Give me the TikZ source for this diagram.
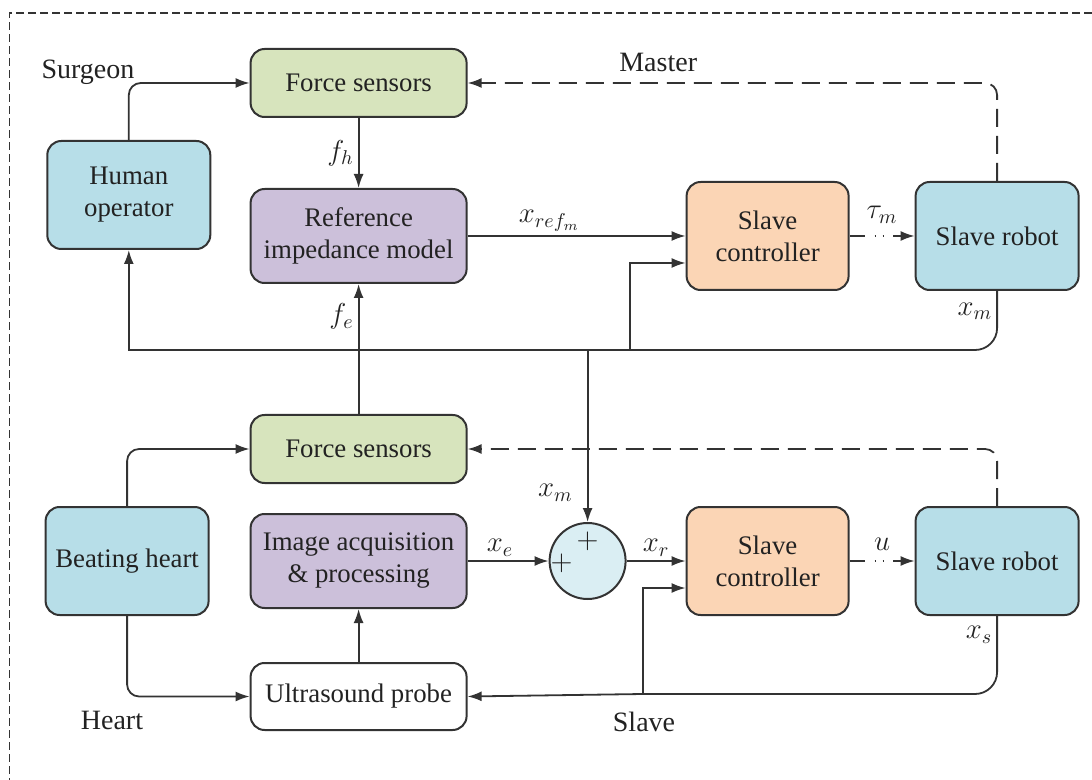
\documentclass[tikz,border=0pt]{standalone}
\usepackage{fontspec}
\setmainfont{Liberation Serif}
\usetikzlibrary{arrows.meta,positioning,calc}

\definecolor{linegray}{RGB}{51,51,51}
\definecolor{textdark}{RGB}{34,34,34}
\definecolor{sensgreen}{RGB}{215,228,189}
\definecolor{modpurple}{RGB}{204,192,218}
\definecolor{ctrlorange}{RGB}{251,213,181}
\definecolor{plantblue}{RGB}{183,222,232}
\definecolor{sumblue}{RGB}{218,238,243}

\begin{document}
\begin{tikzpicture}[
  x=0.5pt, y=-0.5pt,
  font=\fontsize{13.4}{16}\selectfont,
  text=textdark,
  >={Latex[length=7pt,width=5pt]},
  block/.style={draw=linegray, line width=1pt, rounded corners=7pt, align=center, inner sep=2pt},
  sensor/.style={block, fill=sensgreen, minimum width=108pt, minimum height=34pt},
  model/.style={block, fill=modpurple, minimum width=108pt, minimum height=47pt},
  ctrl/.style={block, fill=ctrlorange, minimum width=81pt, minimum height=54pt},
  plant/.style={block, fill=plantblue, minimum width=81.5pt, minimum height=54pt},
  probe/.style={block, fill=white, minimum width=108pt, minimum height=33.5pt},
  sumnode/.style={circle, draw=linegray, line width=1pt, fill=sumblue, minimum size=38pt, inner sep=0pt},
  line/.style={draw=linegray, line width=0.9pt},
  arrow/.style={line, ->},
  dasharrow/.style={arrow, dash pattern=on 9pt off 4.5pt},
  dotarrow/.style={arrow, dash pattern=on 7.5pt off 5pt on 0.7pt off 3.3pt on 0.7pt off 4.5pt on 40pt},
  note/.style={inner sep=2pt, font=\fontsize{14}{16}\selectfont},
  frame/.style={draw=linegray, line width=0.6pt, dash pattern=on 4pt off 2pt}
]
\useasboundingbox (0,0) rectangle (1092,780);

% ----- OUTER FRAME -----
\draw[frame] (1092,13) -| (9.4,780);

% ----- MASTER SIDE -----
\node[model] (ref) at (358.6,236) {Reference\\impedance model};
\node[sensor, above=35pt of ref] (fsm) {Force sensors};
\node[ctrl, right=109pt of ref] (scm) {Slave\\controller};
\node[plant, right=32.5pt of scm] (srm) {Slave robot};
\node[plant] (hop) at (128.8,195) {Human\\operator};

% ----- SLAVE SIDE -----
\node[model] (img) at (358.6,561) {Image acquisition\\\& processing};
\node[sensor, above=14.5pt of img] (fss) {Force sensors};
\node[probe, below=26.5pt of img] (usp) {Ultrasound probe};
\node[plant, left=20pt of img] (hrt) {Beating heart};
\node[sumnode, right=40.5pt of img] (sum) {};
\node[ctrl, right=29.5pt of sum] (scs) {Slave\\controller};
\node[plant, right=32.5pt of scs] (srs) {Slave robot};

% ----- SUM SIGNS -----
\node[inner sep=0pt] (plusup) at ($(sum.center)+(0,-20)$) {$+$};
\node[inner sep=0pt] (plusleft) at ($(sum.center)+(-26,2)$) {$+$};

% ----- SECTION LABELS -----
\node[note] (surg) at (88,72) {Surgeon};
\node[note] (heart) at (112,720) {Heart};
\node[note] (slv) at (644,722) {Slave};

% ----- BUS JUNCTIONS -----
\coordinate (mbus) at (629.6,350);
\coordinate (sbus) at (642.8,694);

% ----- MASTER CONNECTIONS -----
\draw[arrow, rounded corners=6pt] (hop.north) |- (fsm.west);
\draw[arrow] (fsm.south) -- node[left, note]{$f_h$} (ref.north);
\draw[arrow] (ref.east) -- node[above, pos=0.375, note]{$x_{ref_m}$} (scm.west);
\draw[dotarrow] (scm.east) -- node[above=4pt, note]{$\tau_m$} (srm.west);
\draw[dasharrow, rounded corners=6pt] (srm.north) |- node[pos=0.82, above=3pt, note]{Master} (fsm.east);
\draw[line, rounded corners=11pt] (srm.south) |- node[pos=0.17, left, note]{$x_m$} (mbus);
\draw[arrow] (mbus) -| (hop.south);
\draw[arrow] (mbus) |- ([yshift=-13.5pt]scm.west);
\draw[arrow] (sum.north |- mbus) -- node[pos=0.83, left=5pt, note]{$x_m$} (sum.north);
\draw[arrow] (fss.north) -- node[pos=0.75, left, note]{$f_e$} (ref.south);

% ----- SLAVE CONNECTIONS -----
\draw[arrow, rounded corners=6pt] (hrt.north) |- (fss.west);
\draw[dasharrow, rounded corners=6pt] (srs.north) |- (fss.east);
\draw[arrow] (img.east) -- node[above, pos=0.4, note]{$x_e$} (sum.west);
\draw[arrow] (sum.east) -- node[above, note]{$x_r$} (scs.west);
\draw[dotarrow] (scs.east) -- node[above=3pt, note]{$u$} (srs.west);
\draw[line, rounded corners=11pt] (srs.south) |- node[pos=0.12, left, note]{$x_s$} (sbus);
\draw[arrow] (sbus) -- (usp.east);
\draw[arrow] (sbus) |- ([yshift=-13.5pt]scs.west);
\draw[arrow, rounded corners=6pt] (hrt.south) |- (usp.west);
\draw[arrow] (usp.north) -- (img.south);

\end{tikzpicture}
\end{document}
